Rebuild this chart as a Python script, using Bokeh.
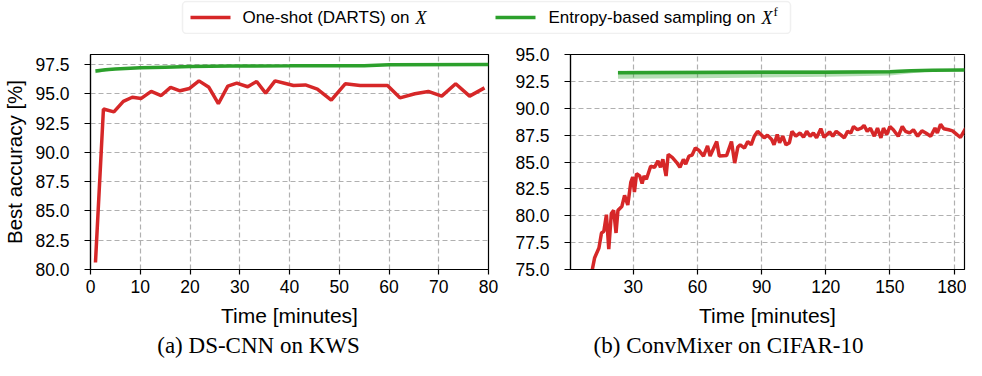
from bokeh.plotting import figure
from bokeh.layouts import column, row
from bokeh.models import Range1d, FixedTicker, NumeralTickFormatter, BoxAnnotation
from bokeh.core.properties import value
from bokeh.embed import file_html
from bokeh.resources import INLINE

RED = "#d62728"
GREEN = "#2ca02c"
SANS = "Liberation Sans"
SERIF = "Liberation Serif"

# ---------------- data ----------------
# (a) DS-CNN on KWS
red_a_t = [1.0, 2.6, 4.7, 6.6, 8.4, 10.2, 12.2, 14.2, 16.1, 18.0, 19.9, 21.8, 23.8, 25.7,
           27.6, 29.4, 31.6, 33.4, 35.2, 37.1, 39.0, 40.8, 43.2, 45.6, 48.4, 51.2, 54.2,
           56.9, 59.7, 62.2, 65.2, 67.9, 70.6, 73.4, 76.2, 79.2]
red_a_acc = [80.6, 93.7, 93.45, 94.35, 94.7, 94.6, 95.2, 94.85, 95.55, 95.25, 95.45, 96.1,
             95.55, 94.15, 95.65, 95.9, 95.6, 96.05, 95.05, 96.1, 95.9, 95.7, 95.75, 95.4,
             94.45, 95.85, 95.7, 95.7, 95.7, 94.65, 95.0, 95.2, 94.8, 95.85, 94.8, 95.5]
green_a_t = [1, 3, 5, 8, 10, 15, 20, 28, 40, 55, 60, 80]
green_a_acc = [96.95, 97.05, 97.12, 97.18, 97.22, 97.27, 97.32, 97.37, 97.38, 97.4, 97.48, 97.5]
green_a_lo = [96.75, 96.9, 97.02, 97.12, 97.17, 97.23, 97.29, 97.34, 97.35, 97.37, 97.45, 97.47]
green_a_hi = [97.08, 97.14, 97.19, 97.23, 97.26, 97.3, 97.35, 97.4, 97.41, 97.43, 97.51, 97.53]

# (b) ConvMixer on CIFAR-10
red_b_t = [10.0, 11.9, 13.9, 15.1, 16.2, 17.4, 18.5, 19.7, 20.8, 21.9, 22.8, 24.6, 25.9, 27.4,
           28.8, 29.7, 30.5, 31.5, 33.0, 34.1, 35.0, 36.1, 38.1, 39.9, 41.5, 42.7, 43.8, 45.3,
           46.3, 48.3, 50.3, 51.8, 53.4, 54.5, 56.0, 57.5, 59.0, 60.6, 62.8, 64.7, 65.9, 69.0,
           70.2, 73.6, 75.9, 77.4, 78.9, 80.0, 82.0, 83.5, 85.1, 86.6, 88.1, 89.7, 91.2, 92.7,
           94.7, 95.8, 97.3, 98.4, 99.9, 101.4, 103.0, 104.2, 106.0, 108.0, 109.6, 111.1, 112.7,
           114.2, 115.7, 117.7, 119.2, 121.8, 123.3, 124.9, 126.9, 128.7, 130.2, 131.7, 133.0,
           134.8, 136.6, 137.9, 139.4, 140.9, 142.7, 144.2, 145.8, 147.0, 148.5, 150.0, 151.6,
           153.9, 155.8, 157.3, 159.2, 161.0, 163.0, 165.0, 166.8, 169.1, 171.1, 172.2, 173.7,
           175.2, 177.5, 179.3, 181.4, 183.0, 185.5]
red_b_acc = [74.2, 76.1, 77.0, 78.4, 78.55, 80.1, 76.9, 80.2, 80.5, 78.4, 80.5, 80.85, 81.9, 81.0,
             83.1, 83.6, 82.2, 83.9, 83.7, 83.0, 83.7, 83.4, 84.6, 84.5, 85.1, 84.5, 85.25, 83.7,
             85.7, 85.4, 84.95, 84.5, 85.25, 84.8, 85.55, 85.65, 86.3, 86.1, 85.55, 86.5, 85.55, 86.9,
             85.55, 85.6, 86.9, 84.9, 86.4, 86.6, 86.3, 86.9, 86.6, 87.4, 87.85, 87.55, 87.25, 87.5,
             87.1, 86.6, 87.55, 86.8, 87.4, 86.6, 86.8, 87.85, 87.4, 87.7, 87.3, 87.85, 87.4,
             87.7, 87.25, 88.1, 87.3, 87.8, 87.4, 87.85, 87.55, 87.25, 87.85, 87.7, 88.3,
             88.0, 88.15, 88.4, 87.85, 88.15, 87.4, 88.15, 87.25, 88.15, 87.55, 88.3, 88.0,
             87.4, 88.3, 87.85, 87.7, 88.0, 87.4, 87.9, 87.7, 87.4, 88.15, 87.7, 88.5,
             88.1, 88.0, 87.9, 87.55, 87.3, 88.15]
green_b_t = [22.8, 60, 120, 150, 160, 170, 185]
green_b_acc = [93.3, 93.33, 93.36, 93.4, 93.48, 93.54, 93.56]
green_b_lo = [92.75, 92.8, 92.92, 93.05, 93.25, 93.45, 93.5]
green_b_hi = [93.5, 93.52, 93.54, 93.56, 93.62, 93.66, 93.68]

xticks_a = [0, 10, 20, 30, 40, 50, 60, 70, 80]
yticks_a = [80.0, 82.5, 85.0, 87.5, 90.0, 92.5, 95.0, 97.5]
xticks_b = [30, 60, 90, 120, 150, 180]
yticks_b = [75.0, 77.5, 80.0, 82.5, 85.0, 87.5, 90.0, 92.5, 95.0]

legend_labels = ["One-shot (DARTS) on", "Entropy-based sampling on"]
legend_math = ["X", "X"]
legend_sup = ["f"]
captions = ["(a) DS-CNN on KWS", "(b) ConvMixer on CIFAR-10"]
x_label = "Time [minutes]"
y_label = "Best accuracy [%]"


def style(p, xticks, yticks):
    p.outline_line_color = "black"
    p.outline_line_width = 1.2
    p.outline_line_alpha = 1.0
    p.background_fill_color = "white"
    p.border_fill_color = "white"
    for ax in (p.xaxis[0], p.yaxis[0]):
        ax.axis_line_color = "black"
        ax.axis_line_width = 1.2
        ax.major_tick_line_color = "black"
        ax.major_tick_line_width = 1.2
        ax.major_tick_in = 0
        ax.major_tick_out = 5
        ax.minor_tick_line_color = None
        ax.major_label_text_font = SANS
        ax.major_label_text_font_size = "17.5px"
        ax.major_label_text_color = "black"
        ax.axis_label_text_font = SANS
        ax.axis_label_text_font_size = "21px"
        ax.axis_label_text_font_style = "normal"
        ax.axis_label_text_color = "black"
    p.xaxis[0].ticker = FixedTicker(ticks=xticks)
    p.yaxis[0].ticker = FixedTicker(ticks=yticks)
    p.yaxis[0].formatter = NumeralTickFormatter(format="0.0")
    p.xaxis[0].major_label_standoff = 5
    p.xaxis[0].axis_label_standoff = 8
    p.yaxis[0].major_tick_out = 6
    p.yaxis[0].major_label_standoff = 15
    p.xgrid[0].ticker = FixedTicker(ticks=xticks)
    p.ygrid[0].ticker = FixedTicker(ticks=yticks)
    for g in (p.xgrid[0], p.ygrid[0]):
        g.grid_line_color = "#b0b0b0"
        g.grid_line_width = 1.2
        g.grid_line_dash = "5 3"


# ---------------- legend ----------------
leg = figure(width=966, height=34, x_range=Range1d(0, 966), y_range=Range1d(34, 0),
             toolbar_location=None, output_backend="svg", min_border=0,
             x_axis_location=None, y_axis_location=None)
leg.grid.visible = False
leg.outline_line_color = None
leg.add_layout(BoxAnnotation(left=182, right=790, top=1, bottom=33, fill_color="white",
                             fill_alpha=1.0, line_color="#cccccc", line_width=1.5,
                             border_radius=4, level="underlay"))
ly = 17
leg.line(x=[190, 230], y=[ly, ly], line_color=RED, line_width=3.5)
leg.line(x=[495, 535], y=[ly, ly], line_color=GREEN, line_width=3.5)
leg.text(x=[242, 548], y=[ly, ly], text=legend_labels, text_font=value(SANS),
         text_font_size="17px", text_baseline="middle", text_align="left", text_color="black")
leg.text(x=[415, 761], y=[ly + 0.5, ly + 0.5], text=legend_math, text_font=value(SERIF),
         text_font_style="italic", text_font_size="18px", text_baseline="middle",
         text_align="left", text_color="black")
leg.text(x=[773], y=[ly - 6], text=legend_sup, text_font=value(SERIF),
         text_font_size="13px", text_baseline="middle", text_align="left", text_color="black")

# ---------------- plot (a) ----------------
pa = figure(width=500, height=296, x_range=Range1d(0, 80), y_range=Range1d(80, 98.35),
            toolbar_location=None, output_backend="svg",
            min_border_left=90, min_border_right=12, min_border_top=20, min_border_bottom=61,
            x_axis_label=x_label, y_axis_label=y_label)
style(pa, xticks_a, yticks_a)
pa.yaxis[0].axis_label_standoff = 6
pa.yaxis[0].axis_label_text_font_size = "20.5px"
pa.varea(x=green_a_t, y1=green_a_lo, y2=green_a_hi, fill_color=GREEN, fill_alpha=0.35)
pa.line(green_a_t, green_a_acc, line_color=GREEN, line_width=3.5)
pa.line(red_a_t, red_a_acc, line_color=RED, line_width=3.5)

# ---------------- plot (b) ----------------
pb = figure(width=466, height=296, x_range=Range1d(0.6, 184.9), y_range=Range1d(75, 95),
            toolbar_location=None, output_backend="svg",
            min_border_left=70, min_border_right=2, min_border_top=20, min_border_bottom=61,
            x_axis_label=x_label)
style(pb, xticks_b, yticks_b)
pb.varea(x=green_b_t, y1=green_b_lo, y2=green_b_hi, fill_color=GREEN, fill_alpha=0.35)
pb.line(green_b_t, green_b_acc, line_color=GREEN, line_width=3.5)
pb.line(red_b_t, red_b_acc, line_color=RED, line_width=3.5)

# ---------------- captions ----------------
cap = figure(width=966, height=30, x_range=Range1d(0, 966), y_range=Range1d(30, 0),
             toolbar_location=None, output_backend="svg", min_border=0,
             x_axis_location=None, y_axis_location=None)
cap.grid.visible = False
cap.outline_line_color = None
cap.text(x=[258, 728], y=[15, 15], text=captions, text_font=value(SERIF),
         text_font_size="23px", text_baseline="middle", text_align="center", text_color="black")

layout = column(leg, row(pa, pb), cap)
open("out.html", "w").write(file_html(layout, INLINE))
